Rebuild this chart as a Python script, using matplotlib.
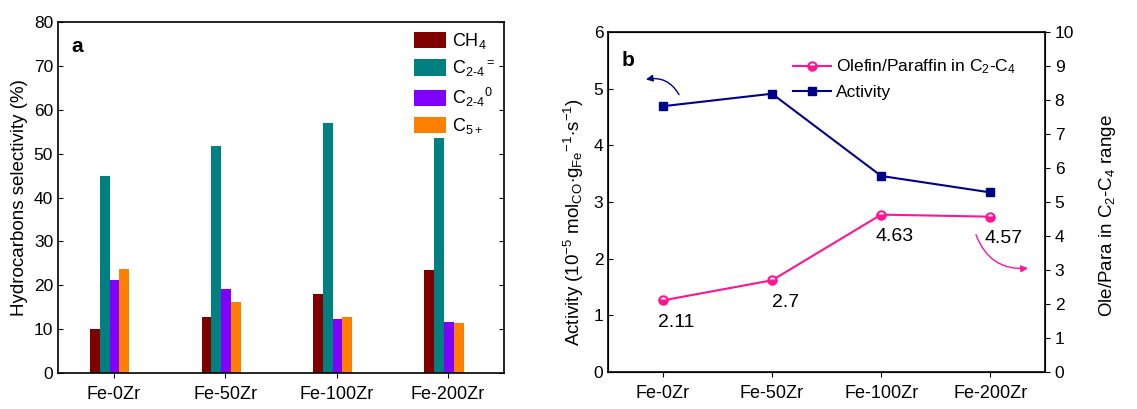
import numpy as np
import matplotlib
matplotlib.use("Agg")
import matplotlib.pyplot as plt
from matplotlib.patches import Patch

plt.rcParams["font.family"] = ["Liberation Sans", "DejaVu Sans"]
plt.rcParams["mathtext.fontset"] = "custom"
plt.rcParams["mathtext.rm"] = "Liberation Sans"
plt.rcParams["mathtext.it"] = "Liberation Sans"

catalysts = ["Fe-0Zr", "Fe-50Zr", "Fe-100Zr", "Fe-200Zr"]

# hydrocarbon selectivity (%)
ch4 = [10.1, 12.8, 18.1, 23.4]
c24_ole = [45.0, 51.8, 57.0, 53.6]
c24_par = [21.3, 19.2, 12.4, 11.7]
c5plus = [23.7, 16.3, 12.8, 11.5]

# activity (1e-5 mol CO / gFe / s) and olefin/paraffin ratio
activity = [4.69, 4.91, 3.46, 3.17]
ole_para = [2.11, 2.7, 4.63, 4.57]

fig = plt.figure(figsize=(11.37, 4.09), dpi=100)

# ---- panel a ----
ax1 = fig.add_axes([0.051, 0.088, 0.392, 0.858])
x = np.arange(len(catalysts))
w = 0.088
series = [
    (ch4, "#800000", r"CH$_4$"),
    (c24_ole, "#008080", r"C$_{2\text{-}4}$$^{=}$"),
    (c24_par, "#8000FF", r"C$_{2\text{-}4}$$^{0}$"),
    (c5plus, "#FF8000", r"C$_{5+}$"),
]
handles = []
for i, (vals, col, lab) in enumerate(series):
    ax1.bar(x + (i - 1.5) * w - 0.036, vals, width=w, color=col)
    handles.append(Patch(facecolor=col, label=lab))
ax1.set_xlim(-0.5, 3.5)
ax1.set_ylim(0, 80)
ax1.set_xticks(x)
ax1.set_xticklabels(catalysts, fontsize=13)
ax1.set_yticks(np.arange(0, 81, 10))
ax1.tick_params(axis="y", direction="in", right=True, labelsize=12.5)
ax1.tick_params(axis="x", direction="out", top=False, labelsize=13, pad=6)
ax1.set_ylabel("Hydrocarbons selectivity (%)", fontsize=13.5)
ax1.text(0.03, 0.93, "a", transform=ax1.transAxes, fontsize=15,
         fontweight="bold", va="center")
ax1.legend(handles=handles, loc="upper right", frameon=False, fontsize=13,
           handlelength=1.8, handleheight=1.0, labelspacing=0.4,
           borderaxespad=0.2, handletextpad=0.3, borderpad=0.3)
for s in ax1.spines.values():
    s.set_linewidth(1.2)

# ---- panel b ----
ax2 = fig.add_axes([0.535, 0.090, 0.384, 0.832])
ax3 = ax2.twinx()
pink = "#FF1493"
navy = "#00008B"
l1, = ax3.plot(x, ole_para, color=pink, marker="o", ms=6, mew=1.5,
               fillstyle="bottom", markerfacecoloralt="white", lw=1.5,
               label=r"Olefin/Paraffin in C$_2$-C$_4$")
l2, = ax2.plot(x, activity, color=navy, marker="s", ms=6, lw=1.5,
               label="Activity")
for xi, v in zip(x, ole_para):
    ax3.annotate(f"{v:g}", (xi, v), xytext=(9.5, -16), textcoords="offset points",
                 ha="center", va="center", fontsize=14)

ax2.set_xlim(-0.5, 3.5)
ax2.set_ylim(0, 6)
ax3.set_ylim(0, 10)
ax2.set_xticks(x)
ax2.set_xticklabels(catalysts, fontsize=13)
ax3.set_yticks(np.arange(0, 11, 1))
ax2.tick_params(axis="y", direction="in", labelsize=12.5)
ax2.tick_params(axis="x", direction="out", labelsize=13, pad=6)
ax3.tick_params(axis="y", direction="out", labelsize=12.5)
ax2.set_ylabel(r"Activity (10$^{-5}$ mol$_{CO}$$\cdot$g$_{Fe}$$^{-1}$$\cdot$s$^{-1}$)",
               fontsize=13.5)
ax2.yaxis.set_label_coords(-0.05, 0.44)
ax3.set_ylabel(r"Ole/Para in C$_2$-C$_4$ range", fontsize=13.5)
ax3.yaxis.set_label_coords(1.12, 0.46)
ax2.text(0.03, 0.915, "b", transform=ax2.transAxes, fontsize=15,
         fontweight="bold", va="center")
ax2.legend(handles=[l1, l2], loc="upper right", frameon=False, fontsize=12.5,
           handlelength=2.2, bbox_to_anchor=(0.97, 0.97), labelspacing=0.5,
           handletextpad=0.3)

ax2.annotate("", xy=(-0.18, 5.15), xytext=(0.16, 4.85),
             arrowprops=dict(arrowstyle="-|>", color=navy, lw=1.0,
                             connectionstyle="arc3,rad=0.4", mutation_scale=10))
ax3.annotate("", xy=(3.37, 3.06), xytext=(2.86, 4.12),
             arrowprops=dict(arrowstyle="-|>", color=pink, lw=1.0,
                             connectionstyle="arc3,rad=0.4", mutation_scale=10))
for s in ax3.spines.values():
    s.set_linewidth(1.2)

fig.savefig("out.png", dpi=100)
